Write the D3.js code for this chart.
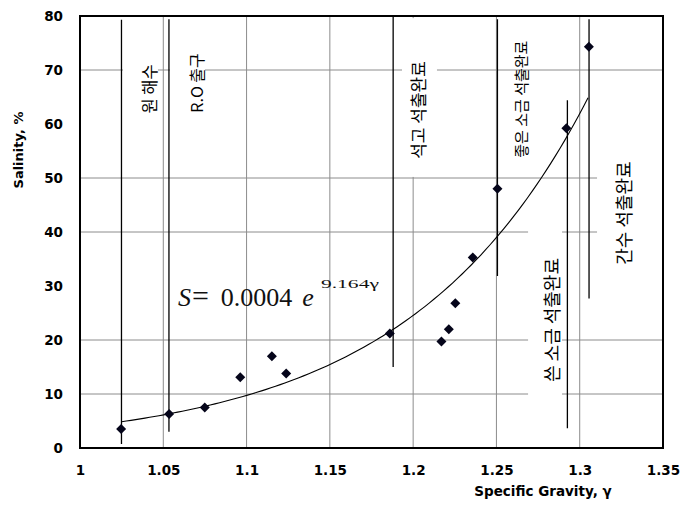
<!DOCTYPE html>
<html><head><meta charset="utf-8">
<script src="https://cdn.jsdelivr.net/npm/d3@7"></script>
<style>body{margin:0;background:#fff}svg{display:block}</style>
</head><body>
<svg id="c" width="692" height="513"></svg>
<script>
// ---- data ----
const gravity  = [1.0247,1.0535,1.0749,1.0962,1.1152,1.1238,1.1860,1.2170,1.2214,1.2253,1.2358,1.2506,1.2920,1.3055];
const salinity = [3.5,6.3,7.5,13.1,17.0,13.8,21.2,19.7,22.0,26.8,35.3,48.0,59.2,74.3];
const xTicks = [1,1.05,1.1,1.15,1.2,1.25,1.3,1.35];
const xTickLabels = ["1","1.05","1.1","1.15","1.2","1.25","1.3","1.35"];
const yTicks = [0,10,20,30,40,50,60,70,80];
const yGrid = [10,20,40,50,70];
const stageNames   = ["원 해수","R.O 출구","석고 석출완료","좋은 소금 석출완료","쓴 소금 석출완료","간수 석출완료"];
const stageGravity = [1.0249,1.0534,1.188,1.2506,1.2926,1.3056];
const stageTop     = [79.3,79.4,80,79.4,64.4,79.4];
const stageBottom  = [0.74,3.0,15.0,31.85,3.65,27.7];
const labelGravity = [1.0414,1.0696,1.2029,1.2642,1.2828,1.3260];
const labelSalin   = [66.5,67.6,62.6,64.6,23.7,43.5];
const labelSize    = [16.5,16,17,15,18,18];
// white label boxes [x0,x1,yTop,yBottom] in data units
const boxes = [[1.0258,1.0468,79.6,59.8],[1.054,1.075,79.6,59.8],[1.1933,1.2143,79.6,50.2],[1.269,1.2894,41.3,8.9],[1.3104,1.3494,57,29.3]];
// trendline shown on the chart: S = 0.0004 e^(9.164γ); curve as drawn
const eqCoef = "0.0004", eqExp = "9.164γ";
const trendA = 0.000371, trendB = 9.25, trendFrom = 1.025, trendTo = 1.305;

const svg = d3.select("#c");
const x = d3.scaleLinear().domain([1,1.35]).range([80,663]);
const y = d3.scaleLinear().domain([0,80]).range([448,16]);
const FONT = "DejaVu Sans";

// gridlines
svg.append("g").selectAll("line").data(xTicks.slice(1,-1)).join("line")
  .attr("x1",d=>x(d)).attr("x2",d=>x(d)).attr("y1",y(80)).attr("y2",y(0))
  .attr("stroke","#8c8c8c").attr("stroke-width",1);
svg.append("g").selectAll("line").data(yGrid).join("line")
  .attr("x1",x(1)).attr("x2",x(1.35)).attr("y1",d=>y(d)).attr("y2",d=>y(d))
  .attr("stroke","#8c8c8c").attr("stroke-width",1);

// white label boxes
svg.append("g").selectAll("rect").data(boxes).join("rect")
  .attr("x",d=>x(d[0])).attr("width",d=>x(d[1])-x(d[0]))
  .attr("y",d=>y(d[2])).attr("height",d=>y(d[3])-y(d[2]))
  .attr("fill","#fff");

// stage vertical lines
svg.append("g").selectAll("line").data(stageGravity).join("line")
  .attr("x1",d=>x(d)).attr("x2",d=>x(d))
  .attr("y1",(d,i)=>y(stageTop[i])).attr("y2",(d,i)=>y(stageBottom[i]))
  .attr("stroke","#000").attr("stroke-width",1.3);

// trend curve
const tr = d3.range(0,101).map(i=>trendFrom+(trendTo-trendFrom)*i/100);
svg.append("path").datum(tr)
  .attr("d",d3.line().x(g=>x(g)).y(g=>y(trendA*Math.exp(trendB*g))))
  .attr("fill","none").attr("stroke","#000").attr("stroke-width",1.1);

// markers
svg.append("g").selectAll("path").data(gravity).join("path")
  .attr("transform",(d,i)=>`translate(${x(d)},${y(salinity[i])}) rotate(45)`)
  .attr("d",d3.symbol(d3.symbolSquare,50))
  .attr("fill","#05051a");

// stage labels
svg.append("g").selectAll("text").data(stageNames).join("text")
  .attr("transform",(d,i)=>`translate(${x(labelGravity[i])},${y(labelSalin[i])}) rotate(-90)`)
  .attr("text-anchor","middle").attr("dominant-baseline","central")
  .attr("font-family","'Noto Sans CJK KR'").attr("font-size",(d,i)=>labelSize[i])
  .attr("fill","#000").text(d=>d);

// equation
const eq = svg.append("text").attr("x",x(1.0588)).attr("y",y(26.3))
  .attr("font-family","'Liberation Serif'").attr("font-size",26).attr("fill","#111");
eq.append("tspan").attr("font-style","italic").text("S");
eq.append("tspan").attr("dx",1).attr("font-size",30).text("=");
eq.append("tspan").attr("dx",12).text(eqCoef);
eq.append("tspan").attr("dx",10).attr("font-style","italic").text("e");
svg.append("text").attr("x",x(1.0588)+143).attr("y",y(26.3)-18)
  .attr("font-family","'Liberation Serif'").attr("font-size",13)
  .attr("textLength",58).attr("lengthAdjust","spacingAndGlyphs").attr("fill","#111").text(eqExp);

// axes labels
const ax = svg.append("g").attr("transform",`translate(0,${y(0)})`)
  .call(d3.axisBottom(x).tickValues(xTicks).tickFormat((d,i)=>xTickLabels[i]).tickSize(0).tickPadding(17));
const ay = svg.append("g").attr("transform",`translate(${x(1)},0)`)
  .call(d3.axisLeft(y).tickValues(yTicks).tickFormat(d3.format("d")).tickSize(0).tickPadding(17));
[ax,ay].forEach(g=>{g.select(".domain").remove();
  g.selectAll("text").attr("font-family",FONT).attr("font-weight","bold").attr("font-size",13.5).attr("fill","#000");});

// frame
svg.append("rect").attr("x",x(1)).attr("y",y(80)).attr("width",x(1.35)-x(1)).attr("height",y(0)-y(80))
  .attr("fill","none").attr("stroke","#000").attr("stroke-width",2);

// axis titles
svg.append("text").attr("x",543).attr("y",491).attr("text-anchor","middle").attr("dominant-baseline","central")
  .attr("font-family",FONT).attr("font-weight","bold").attr("font-size",13.5).text("Specific Gravity, γ");
svg.append("text").attr("transform","translate(18,150) rotate(-90)").attr("text-anchor","middle").attr("dominant-baseline","central")
  .attr("font-family",FONT).attr("font-weight","bold").attr("font-size",13).text("Salinity, %");
</script>
</body></html>
